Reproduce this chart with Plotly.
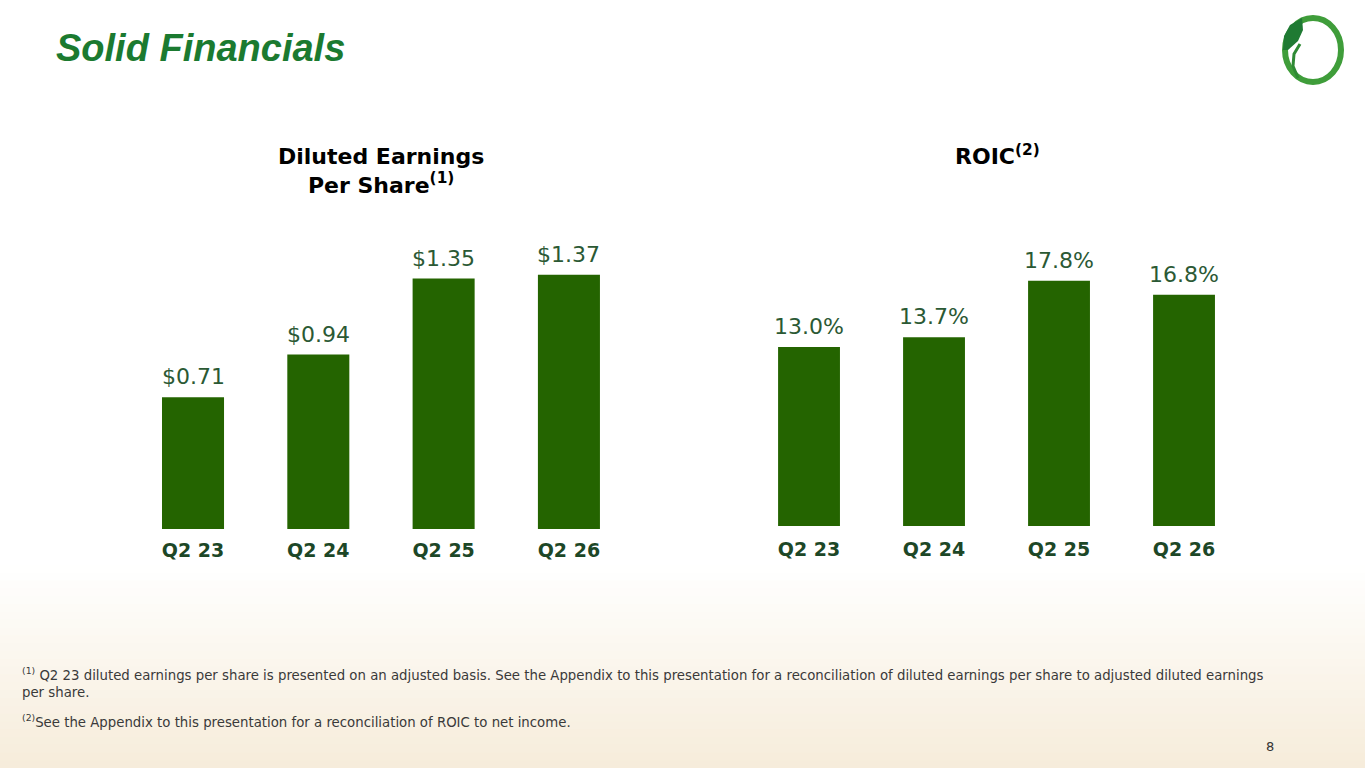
import plotly.graph_objects as go

# ================= DATA =================
QUARTERS = ["Q2 23", "Q2 24", "Q2 25", "Q2 26"]
EPS = [0.71, 0.94, 1.35, 1.37]
ROIC = [13.0, 13.7, 17.8, 16.8]
# ========================================

W, H = 1365, 768
BAR_GREEN = "#246400"
LABEL_GREEN = "#2b5934"
TICK_GREEN = "#1d4727"
FONT = "DejaVu Sans"


def px(x, y):
    """pixel position -> paper coords"""
    return x / W, 1 - y / H


def path(points):
    return " ".join(f"{c} {px(x, y)[0]:.5f},{px(x, y)[1]:.5f}" if c in "ML" else c
                    for c, x, y in points)


fig = go.Figure()

fig.add_trace(go.Bar(
    x=QUARTERS, y=EPS, xaxis="x", yaxis="y",
    marker=dict(color=BAR_GREEN, line=dict(width=0)),
    width=0.495, hoverinfo="skip",
))
fig.add_trace(go.Bar(
    x=QUARTERS, y=ROIC, xaxis="x2", yaxis="y2",
    marker=dict(color=BAR_GREEN, line=dict(width=0)),
    width=0.495, hoverinfo="skip",
))

# value labels above bars
for q, v in zip(QUARTERS, EPS):
    fig.add_annotation(x=q, y=v, xref="x", yref="y", text=f"${v:.2f}",
                       showarrow=False, yanchor="bottom", yshift=6,
                       font=dict(family=FONT, size=22, color=LABEL_GREEN))
for q, v in zip(QUARTERS, ROIC):
    fig.add_annotation(x=q, y=v, xref="x2", yref="y2", text=f"{v:.1f}%",
                       showarrow=False, yanchor="bottom", yshift=6,
                       font=dict(family=FONT, size=22, color=LABEL_GREEN))

tick_font = dict(family=FONT, size=19, color=TICK_GREEN, weight="bold")
xax = dict(showline=False, showgrid=False, zeroline=False, ticks="outside",
           tickcolor="rgba(0,0,0,0)", tickfont=tick_font, fixedrange=True)
yax = dict(visible=False, fixedrange=True)

fig.update_layout(
    width=W, height=H,
    margin=dict(l=0, r=0, t=0, b=0),
    paper_bgcolor="white",
    plot_bgcolor="rgba(0,0,0,0)",
    showlegend=False,
    xaxis=dict(domain=[0.0955, 0.4627], anchor="y", ticklen=4, **xax),
    yaxis=dict(domain=[0.3112, 0.6977], range=[0, 1.6], **yax),
    xaxis2=dict(domain=[0.5469, 0.9132], anchor="y2", ticklen=6, **xax),
    yaxis2=dict(domain=[0.3151, 0.7096], range=[0, 22], **yax),
)

# beige gradient at the bottom of the slide
n = 26
top, bot = 565, H
c0, c1 = (255, 255, 255), (246, 236, 218)
for i in range(n):
    t = (i + 0.5) / n
    col = tuple(round(a + (b - a) * t) for a, b in zip(c0, c1))
    ya = top + (bot - top) * i / n
    yb = top + (bot - top) * (i + 1) / n + 1
    fig.add_shape(type="rect", xref="paper", yref="paper", layer="below",
                  x0=0, x1=1, y0=px(0, yb)[1], y1=px(0, ya)[1],
                  fillcolor=f"rgb{col}", line=dict(width=0))

# slide title
fig.add_annotation(xref="paper", yref="paper", x=px(54, 0)[0], y=px(0, 48)[1],
                   xanchor="left", yanchor="middle", showarrow=False,
                   text="Solid Financials",
                   font=dict(family="Liberation Sans", size=38, color="#1b7a30",
                             weight="bold", style="italic"))

# chart titles
title_font = dict(family=FONT, size=22, color="black", weight="bold")
fig.add_annotation(xref="paper", yref="paper", x=px(381, 0)[0], y=px(0, 171)[1],
                   xanchor="center", yanchor="middle", showarrow=False, align="center",
                   text="Diluted Earnings<br>Per Share<sup>(1)</sup>",
                   font=title_font)
fig.add_annotation(xref="paper", yref="paper", x=px(997, 0)[0], y=px(0, 155)[1],
                   xanchor="center", yanchor="middle", showarrow=False,
                   text="ROIC<sup>(2)</sup>", font=title_font)

# footnotes
note_font = dict(family=FONT, size=13.3, color="#3a3a3a")
fig.add_annotation(xref="paper", yref="paper", x=px(20, 0)[0], y=px(0, 663)[1],
                   xanchor="left", yanchor="top", showarrow=False, align="left",
                   text="<sup>(1)</sup> Q2 23 diluted earnings per share is presented on an adjusted basis. "
                        "See the Appendix to this presentation for a reconciliation of diluted earnings per share "
                        "to adjusted diluted earnings<br>per share.",
                   font=note_font)
fig.add_annotation(xref="paper", yref="paper", x=px(20, 0)[0], y=px(0, 721)[1],
                   xanchor="left", yanchor="middle", showarrow=False, align="left",
                   text="<sup>(2)</sup>See the Appendix to this presentation for a reconciliation of ROIC to net income.",
                   font=note_font)
fig.add_annotation(xref="paper", yref="paper", x=px(1270, 0)[0], y=px(0, 746)[1],
                   xanchor="center", yanchor="middle", showarrow=False, text="8",
                   font=dict(family=FONT, size=13, color="#333333"))

# logo: ring + leaf
x0, y0 = px(1285, 18)
x1, y1 = px(1341, 82)
fig.add_shape(type="circle", xref="paper", yref="paper", x0=x0, y0=y1, x1=x1, y1=y0,
              line=dict(color="#3f9d3a", width=6))
fig.add_shape(type="path", xref="paper", yref="paper",
              path=path([("M", 1283, 50), ("L", 1284, 36), ("L", 1290, 25),
                         ("L", 1302, 18), ("L", 1303, 30), ("L", 1298, 41),
                         ("L", 1288, 50), ("Z", 0, 0)]),
              fillcolor="#1f7a33", line=dict(width=0))
fig.add_shape(type="path", xref="paper", yref="paper",
              path=path([("M", 1300, 44), ("L", 1294, 54), ("L", 1293, 66),
                         ("L", 1298, 78)]),
              line=dict(color="#2f8a35", width=3))

fig.write_html("out.html",
               config={"displayModeBar": False},
               post_script="document.body.style.margin='0';"
                           "document.body.style.overflow='hidden';")
